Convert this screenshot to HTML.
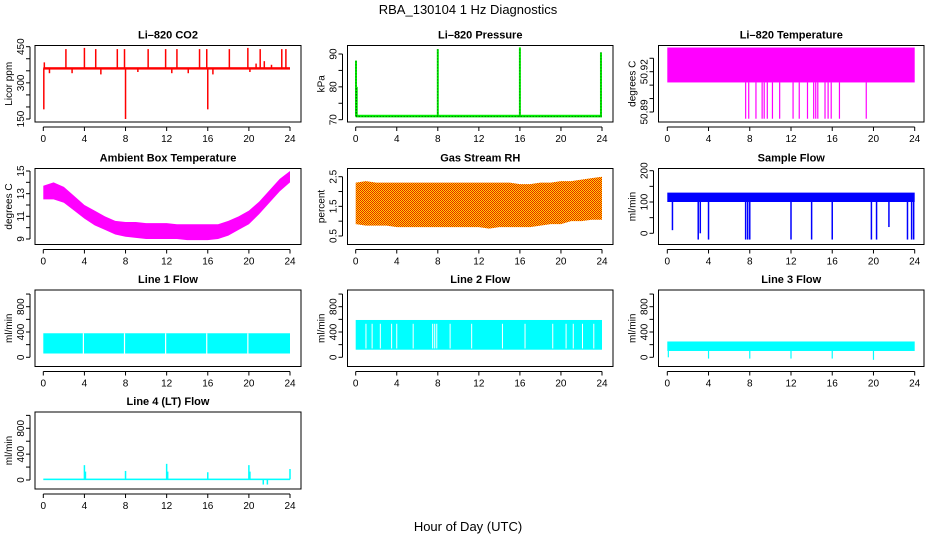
<!DOCTYPE html>
<html><head><meta charset="utf-8"><style>
body{margin:0;background:#fff}
svg{display:block;font-family:"Liberation Sans",sans-serif}
</style></head><body>
<svg id="c" width="936" height="540" viewBox="0 0 936 540">
<defs>
<pattern id="rh" width="2" height="2" patternUnits="userSpaceOnUse"><rect width="2" height="2" fill="#ffd800"/><rect x="0" y="0" width="1" height="1" fill="#e82000"/><rect x="1" y="1" width="1" height="1" fill="#e82000"/></pattern>
</defs>
<text x="468" y="14" text-anchor="middle" font-size="13">RBA_130104  1 Hz Diagnostics</text>
<text x="468" y="531" text-anchor="middle" font-size="13">Hour of Day (UTC)</text>
</svg>
<script>
// ---- data ----
const hours = [0,1,2,3,4,5,6,7,8,9,10,11,12,13,14,15,16,17,18,19,20,21,22,23,24];
const xTicks = [0,4,8,12,16,20,24];
const co2Base = 360;
const co2SpikeHours = [0.05,0.1,2.2,4.0,5.1,7.2,7.9,8.0,10.2,11.9,13.0,15.2,15.9,16.0,18.1,19.9,21.1,23.2,23.6,0.6,2.8,5.6,9.2,12.5,14.1,16.5,20.1,20.7,21.5,22.2];
const co2SpikeValues = [190,385,440,445,440,440,440,150,440,440,440,440,440,190,440,445,440,440,440,340,340,335,345,340,340,335,345,380,390,375];
const presBase = 71;
const presSpikeHours = [0.03,0.1,8.0,16.0,23.9];
const presSpikeValues = [88,80,91.5,92,90.5];
const tempTop = 50.938, tempBottom = 50.912, tempLow = 50.885;
const tempDropHours = [7.6,7.9,8.6,9.2,9.4,9.7,10.2,10.9,12.2,12.8,13.6,14.2,14.4,14.6,15.3,15.6,15.9,16.7,19.3];
const ambHi = [13.7,14,13.6,12.8,12,11.5,11,10.6,10.5,10.5,10.4,10.4,10.4,10.3,10.3,10.3,10.3,10.3,10.6,11,11.5,12.3,13.3,14.3,15];
const ambLo = [12.5,12.5,12.2,11.5,10.8,10.2,9.8,9.4,9.2,9.1,9.0,9.0,9.0,9.0,8.9,8.9,8.9,9.0,9.3,9.8,10.3,11.2,12.2,13.2,14];
const rhHi = [2.3,2.35,2.3,2.3,2.3,2.3,2.3,2.3,2.3,2.3,2.3,2.3,2.3,2.3,2.3,2.3,2.25,2.25,2.3,2.3,2.35,2.35,2.4,2.45,2.5];
const rhLo = [0.9,0.85,0.85,0.85,0.8,0.8,0.8,0.8,0.8,0.8,0.8,0.8,0.8,0.75,0.8,0.8,0.8,0.8,0.85,0.9,0.9,1.0,1.0,1.05,1.05];
const sfHi = 130, sfLo = 100;
const sfDropHours = [0.5,3.0,3.2,4.0,7.6,7.8,8.0,12.0,14.0,16.0,19.8,20.3,21.5,23.3,23.7,23.9];
const sfDropValues = [10,-20,0,-20,-20,-20,-20,-20,-20,-20,-20,-20,20,-20,-20,-20];
const l1Hi = 380, l1Lo = 60;
const l1GapHours = [3.9,7.9,11.9,15.9,19.9];
const l2Hi = 590, l2Lo = 120;
const l2GapHours = [1.0,1.6,2.4,3.5,4.0,5.6,7.5,7.7,7.9,9.2,11.3,14.3,16.5,19.2,20.5,21.2,22.1,23.2];
const l3Hi = 250, l3Lo = 100;
const l3DropHours = [0.1,4.0,8.0,12.0,16.0,20.0];
const l3DropValues = [0,-20,-20,-20,-20,-40];
const l4Base = 10;
const l4SpikeHours = [4.0,4.1,8.0,12.0,12.1,16.0,20.0,20.1,24.0,21.4,21.8];
const l4SpikeValues = [230,130,140,250,130,120,230,130,170,-70,-70];

// ---- layout ----
const NS='http://www.w3.org/2000/svg';
const svg=document.getElementById('c');
function el(tag,attrs,parent){const e=document.createElementNS(NS,tag);for(const k in attrs)e.setAttribute(k,attrs[k]);(parent||svg).appendChild(e);return e;}
const cols=[{l:35,r:301,x0:43.3,x24:290},{l:347.5,r:613,x0:355.7,x24:602},{l:658.5,r:924,x0:667.3,x24:914.7}];
const rows=[{t:45.5,b:122},{t:168.5,b:244.5},{t:290,b:366.5},{t:412,b:489}];
function panel(name,title,ci,ri,ylab,v1,p1,v2,p2,yt,ylabels){
  const c=cols[ci],r=rows[ri];
  const g=el('g',{});
  
  
  const sx=h=>c.x0+(c.x24-c.x0)*h/24;
  const sy=v=>p1+(v-v1)*(p2-p1)/(v2-v1);
  const marks=el('g',{},g);
  
  
  const t=el('text',{x:(c.l+c.r)/2,y:r.t-7,'text-anchor':'middle','font-size':'11','font-weight':'bold'},g);
  t.textContent=title;
  
  
  const box=el('rect',{x:c.l,y:r.t,width:c.r-c.l,height:r.b-r.t,fill:'none',stroke:'#000','stroke-width':1},g);
  
  
  const xa=el('g',{},g);
  
  
  const ay=r.b+5;
  el('line',{x1:sx(0),x2:sx(24),y1:ay,y2:ay,stroke:'#000'},xa);
  xTicks.forEach(h=>{el('line',{x1:sx(h),x2:sx(h),y1:ay,y2:ay+4,stroke:'#000'},xa);
    const tx=el('text',{x:sx(h),y:ay+15,'text-anchor':'middle','font-size':'10'},xa);tx.textContent=h;});
  const ya=el('g',{},g);
  
  
  const ax=c.l-5;
  el('line',{x1:ax,x2:ax,y1:sy(yt[0]),y2:sy(yt[yt.length-1]),stroke:'#000'},ya);
  yt.forEach(v=>el('line',{x1:ax,x2:ax-4,y1:sy(v),y2:sy(v),stroke:'#000'},ya));
  ylabels.forEach(v=>{const tx=el('text',{x:0,y:0,'text-anchor':'middle','font-size':'10',transform:`translate(${ax-6},${sy(v)}) rotate(-90)`},ya);tx.textContent=v;});
  const yl=el('text',{x:0,y:0,'text-anchor':'middle','font-size':'10',transform:`translate(${ax-18},${(r.t+r.b)/2}) rotate(-90)`},g);
  yl.textContent=ylab;
  
  
  return {g:marks,sx,sy};
}
function band(P,lo,hi,fill,name){
  let d='M'+hours.map((h,i)=>P.sx(h)+','+P.sy(hi[i])).join(' L');
  d+=' L'+hours.slice().reverse().map((h,i)=>P.sx(h)+','+P.sy(lo[hours.length-1-i])).join(' L')+'Z';
  const p=el('path',{d,fill},P.g);
  
  
}
function rectBand(P,lo,hi,fill,name){
  const r=el('rect',{x:P.sx(0),y:P.sy(hi),width:P.sx(24)-P.sx(0),height:P.sy(lo)-P.sy(hi),fill},P.g);
  
  
}
function spikes(P,hs,vs,from,color,w,name,dash){
  hs.forEach((h,i)=>{const l=el('line',{x1:P.sx(h),x2:P.sx(h),y1:P.sy(from),y2:P.sy(vs[i]),stroke:color,'stroke-width':w},P.g);
    if(dash)l.setAttribute('stroke-dasharray',dash);
    
    });
}

// CO2
let P=panel('co2','Li\u2013820 CO2',0,0,'Licor ppm',450,46.7,150,119,[150,200,250,300,350,400,450],[150,300,450]);
rectBand(P,355,365,'#ff0000','co2-baseline');
spikes(P,co2SpikeHours,co2SpikeValues,co2Base,'#ff0000',1.5,'co2-spike');
// Pressure
P=panel('pressure','Li\u2013820 Pressure',1,0,'kPa',90,54,70,119.7,[70,75,80,85,90],[70,80,90]);
rectBand(P,70.7,71.5,'#00ee00','pressure-baseline');
const pl=el('line',{x1:P.sx(0),x2:P.sx(24),y1:P.sy(presBase),y2:P.sy(presBase),stroke:'#000','stroke-width':0.7,'stroke-dasharray':'1,2'},P.g);


spikes(P,presSpikeHours,presSpikeValues,presBase,'#00ee00',2,'pressure-spike');
spikes(P,presSpikeHours,presSpikeValues,presBase,'#000',0.6,'pressure-spike-core','1,2');
// Li-820 temperature
P=panel('licor-temp','Li\u2013820 Temperature',2,0,'degrees C',50.92,71.7,50.89,112,[50.89,50.9,50.91,50.92,50.93],['50.89','50.92']);
rectBand(P,tempBottom,tempTop,'#ff00ff','licor-temp-band');
spikes(P,tempDropHours,tempDropHours.map(()=>tempLow),tempBottom,'#ff00ff',1.2,'licor-temp-drop');
// Ambient
P=panel('ambient','Ambient Box Temperature',0,1,'degrees C',15,171,9,239,[9,10,11,12,13,14,15],[9,11,13,15]);
band(P,ambLo,ambHi,'#ff00ff','ambient-band');
// RH
P=panel('rh','Gas Stream RH',1,1,'percent',2.5,176.7,0.5,236,[0.5,1,1.5,2,2.5],['0.5','1.5','2.5']);
band(P,rhLo,rhHi,'url(#rh)','rh-band');
// Sample flow
P=panel('sample-flow','Sample Flow',2,1,'ml/min',200,170.7,0,233.3,[0,50,100,150,200],[0,100,200]);
rectBand(P,sfLo,sfHi,'#0000ff','sample-flow-band');
spikes(P,sfDropHours,sfDropValues,sfLo,'#0000ff',1.5,'sample-flow-drop');
// Line flows
const lt=[0,200,400,600,800,1000],ll=[0,400,800];
P=panel('line1','Line 1 Flow',0,2,'ml/min',0,357.3,800,306.7,lt,ll);
rectBand(P,l1Lo,l1Hi,'#00ffff','line1-band');
spikes(P,l1GapHours,l1GapHours.map(()=>l1Lo),l1Hi,'#fff',1.2,'line1-gap');
P=panel('line2','Line 2 Flow',1,2,'ml/min',0,357.3,800,306.7,lt,ll);
rectBand(P,l2Lo,l2Hi,'#00ffff','line2-band');
spikes(P,l2GapHours,l2GapHours.map(()=>l2Lo+20),l2Hi-60,'#fff',1,'line2-gap');
P=panel('line3','Line 3 Flow',2,2,'ml/min',0,357.3,800,306.7,lt,ll);
rectBand(P,l3Lo,l3Hi,'#00ffff','line3-band');
spikes(P,l3DropHours,l3DropValues,l3Lo,'#00ffff',1.2,'line3-drop');
P=panel('line4','Line 4 (LT) Flow',0,3,'ml/min',0,480,800,428.3,lt,ll);
rectBand(P,l4Base-12,l4Base+12,'#00ffff','line4-band');
spikes(P,l4SpikeHours,l4SpikeValues,l4Base,'#00ffff',1.5,'line4-spike');
</script>
</body></html>
